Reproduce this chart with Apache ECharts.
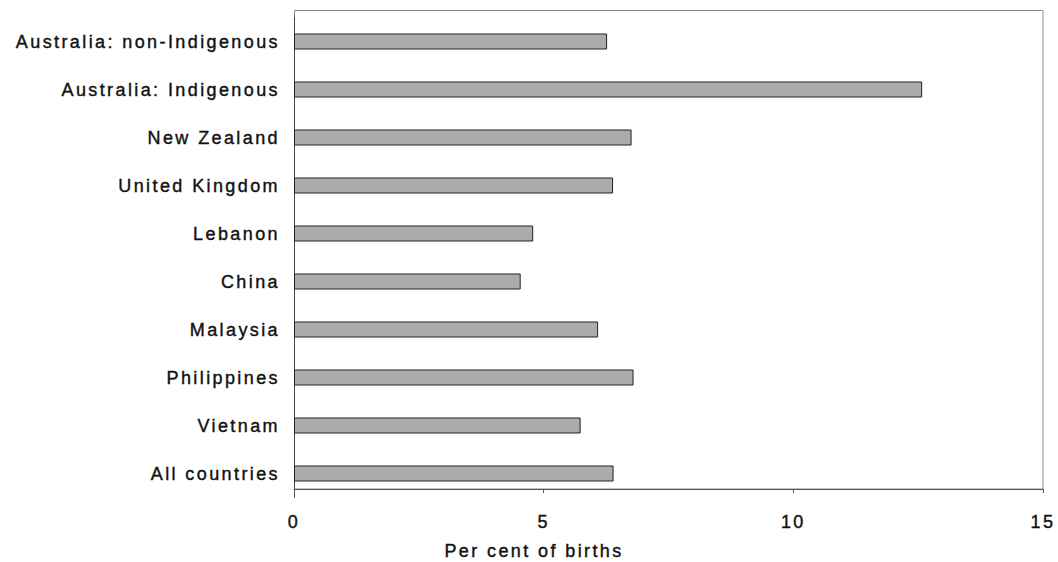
<!DOCTYPE html>
<html>
<head>
<meta charset="utf-8">
<title>Per cent of births</title>
<script src="https://cdn.jsdelivr.net/npm/echarts@6/dist/echarts.min.js"></script>
<style>
  html, body { margin: 0; padding: 0; background: #fff; }
  #chart { width: 1058px; height: 562px; }
  #chart text { letter-spacing: 2.4px; }
</style>
</head>
<body>
<div id="chart"></div>
<script>
// Categories listed top to bottom
const categories = [
  'Australia: non-Indigenous',
  'Australia: Indigenous',
  'New Zealand',
  'United Kingdom',
  'Lebanon',
  'China',
  'Malaysia',
  'Philippines',
  'Vietnam',
  'All countries'
];
// Per cent of births for each category
const values = [6.27, 12.58, 6.76, 6.39, 4.79, 4.54, 6.09, 6.80, 5.74, 6.40];
const xTicks = [0, 5, 10, 15];
const xTitle = 'Per cent of births';

const FONT = '"Liberation Sans", Arial, sans-serif';
const labelStyle = {
  color: '#111',
  fontSize: 18,
  fontFamily: FONT,
  textBorderColor: '#111',
  textBorderWidth: 0.4
};
const chart = echarts.init(document.getElementById('chart'), null, { renderer: 'svg' });

chart.setOption({
  animation: false,
  backgroundColor: '#ffffff',
  grid: { left: 294, right: 15, top: 17.5, bottom: 64.5, containLabel: false },
  xAxis: {
    type: 'value',
    min: xTicks[0],
    max: xTicks[xTicks.length - 1],
    interval: xTicks[1] - xTicks[0],
    offset: -8.5,
    axisLine: { show: true, lineStyle: { color: '#555', width: 1 } },
    axisTick: { show: true, length: 4, lineStyle: { color: '#555' } },
    splitLine: { show: false },
    axisLabel: Object.assign({ margin: 24 }, labelStyle)
  },
  yAxis: {
    type: 'category',
    data: categories,
    inverse: true,
    axisLine: { show: true, lineStyle: { color: '#444', width: 1 } },
    axisTick: { show: false },
    splitLine: { show: false },
    axisLabel: Object.assign({ margin: 14 }, labelStyle)
  },
  graphic: [
    {
      type: 'rect',
      shape: { x: 294.5, y: 10.5, width: 748.5, height: 478.5 },
      style: { fill: 'none', stroke: '#8a8a8a', lineWidth: 1 },
      silent: true,
      z: -1
    },
    {
      type: 'text',
      x: 534,
      y: 551,
      style: {
        text: xTitle,
        fill: '#111',
        stroke: '#111',
        lineWidth: 0.4,
        font: '18px ' + FONT,
        textAlign: 'center',
        textVerticalAlign: 'middle'
      }
    }
  ],
  series: [{
    type: 'bar',
    data: values,
    barWidth: 16,
    itemStyle: { color: '#ababab', borderColor: '#222', borderWidth: 1 }
  }]
});
</script>
</body>
</html>
